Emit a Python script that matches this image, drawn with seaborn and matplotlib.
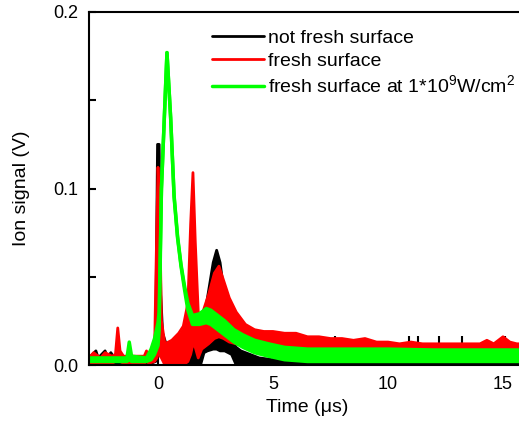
import seaborn as sns
import matplotlib.pyplot as plt

sns.set_theme(
    style="ticks",
    rc={
        "axes.linewidth": 1.5,
        "axes.edgecolor": "black",
        "axes.labelcolor": "black",
        "text.color": "black",
        "xtick.color": "black",
        "ytick.color": "black",
        "xtick.direction": "in",
        "ytick.direction": "in",
        "xtick.major.size": 5,
        "ytick.major.size": 5,
        "ytick.minor.size": 5,
        "xtick.major.width": 1.5,
        "ytick.major.width": 1.5,
        "ytick.minor.width": 1.5,
        "mathtext.default": "regular",
    },
)
plt.rcParams["font.family"] = ["Liberation Sans", "DejaVu Sans"]

# not fresh surface (black): time (us), lower / upper edge of the noisy trace (V)
t_black = [-3.0, -2.7, -2.6, -2.3, -2.2, -2.05, -1.9, -1.0, -0.3, -0.1, -0.02, 0.05, 0.12,
           0.2, 0.35, 0.6, 1.0, 1.3, 1.6, 1.85, 2.0, 2.15, 2.4, 2.55, 2.7, 2.9, 3.2, 3.4,
           3.6, 4.0, 4.4, 5.0, 16.0]
lo_black = [0.001, 0.001, 0.001, 0.001, 0.001, 0.001, 0.001, 0.001, 0.001, 0.002, 0.004, 0.006, 0.006,
            0.005, 0.003, 0.001, 0.0, 0.0, 0.0, 0.0, 0.007, 0.008, 0.009, 0.009, 0.008, 0.008, 0.006, 0.0,
            0.0, 0.0, 0.0, 0.0, 0.0]
hi_black = [0.004, 0.008, 0.004, 0.008, 0.004, 0.007, 0.004, 0.004, 0.005, 0.012, 0.125, 0.125, 0.04,
            0.018, 0.012, 0.006, 0.005, 0.008, 0.014, 0.02, 0.026, 0.038, 0.058, 0.065, 0.058, 0.038, 0.014, 0.01,
            0.008, 0.006, 0.004, 0.003, 0.003]
spike_t_black = [7.7, 10.9, 11.3, 12.2, 13.2, 15.1]
spike_v_black = [0.0165, 0.0165, 0.0165, 0.0165, 0.0165, 0.0165]

# fresh surface (red)
t_red = [-3.0, -2.8, -2.5, -2.3, -2.0, -1.85, -1.75, -1.65, -1.5, -0.6, -0.5, -0.4, -0.15,
         -0.05, 0.0, 0.07, 0.15, 0.3, 0.6, 0.9, 1.1, 1.3, 1.42, 1.52, 1.62, 1.75, 1.9, 2.2,
         2.45, 2.65, 2.85, 3.1, 3.4, 3.8, 4.2, 4.6, 5.0, 5.5, 6.0, 6.5, 7.0, 7.5, 8.0, 8.5,
         9.0, 9.5, 10.0, 10.5, 11.0, 11.5, 12.0, 12.5, 13.0, 13.5, 14.0, 14.3, 14.6, 15.0,
         15.3, 15.6, 16.0]
lo_red = [0.001, 0.001, 0.001, 0.001, 0.001, 0.002, 0.003, 0.002, 0.001, 0.001, 0.002, 0.001, 0.002,
          0.004, 0.006, 0.006, 0.004, 0.0, 0.0, 0.0, 0.0, 0.002, 0.006, 0.012, 0.01, 0.004, 0.009, 0.012,
          0.015, 0.016, 0.015, 0.013, 0.012, 0.011, 0.011, 0.010, 0.010, 0.010, 0.010, 0.010, 0.010, 0.009, 0.009, 0.009,
          0.009, 0.009, 0.009, 0.009, 0.009, 0.009, 0.009, 0.009, 0.009, 0.009, 0.009, 0.009, 0.009, 0.009,
          0.009, 0.009, 0.009]
hi_red = [0.004, 0.007, 0.004, 0.007, 0.005, 0.006, 0.021, 0.008, 0.005, 0.005, 0.008, 0.004, 0.008,
          0.08, 0.112, 0.09, 0.025, 0.012, 0.014, 0.018, 0.022, 0.035, 0.08, 0.109, 0.07, 0.03, 0.028, 0.04,
          0.052, 0.056, 0.048, 0.038, 0.03, 0.023, 0.02, 0.019, 0.019, 0.018, 0.018, 0.016, 0.016, 0.015, 0.015, 0.014,
          0.015, 0.013, 0.013, 0.012, 0.013, 0.012, 0.012, 0.012, 0.012, 0.012, 0.012, 0.014, 0.012, 0.016,
          0.013, 0.012, 0.012]

# fresh surface at 1e9 W/cm2 (green)
t_green = [-3.0, -2.0, -1.35, -1.25, -1.15, -0.5, -0.3, -0.15, 0.0, 0.05, 0.15, 0.39, 0.55,
           0.7, 0.85, 1.0, 1.15, 1.3, 1.5, 1.8, 2.1, 2.3, 2.6, 2.9, 3.3, 3.7, 4.2, 4.8,
           5.5, 6.5, 8.0, 10.0, 12.0, 14.0, 16.0]
lo_green = [0.002, 0.002, 0.002, 0.003, 0.002, 0.002, 0.003, 0.006, 0.011, 0.02, 0.10, 0.177, 0.14,
            0.095, 0.072, 0.056, 0.043, 0.031, 0.023, 0.023, 0.024, 0.023, 0.02, 0.017, 0.013, 0.01, 0.007, 0.005,
            0.003, 0.002, 0.002, 0.002, 0.002, 0.002, 0.002]
hi_green = [0.004, 0.004, 0.004, 0.013, 0.005, 0.004, 0.009, 0.015, 0.024, 0.03, 0.10, 0.177, 0.14,
            0.096, 0.073, 0.057, 0.045, 0.035, 0.028, 0.029, 0.032, 0.031, 0.028, 0.025, 0.02, 0.017, 0.014, 0.012,
            0.010, 0.009, 0.009, 0.009, 0.0085, 0.0085, 0.0085]

labels = ["not fresh surface", "fresh surface", "fresh surface at 1*10$^9$W/cm$^2$"]
colors = ["#000000", "#ff0000", "#00ff00"]

fig = plt.figure(figsize=(5.19, 4.25), dpi=100)
ax = fig.add_axes([89 / 519, 60 / 425, 437 / 519, 353 / 425])

series = [(t_black, lo_black, hi_black), (t_red, lo_red, hi_red), (t_green, lo_green, hi_green)]
for z, ((t, lo, hi), lab, c) in enumerate(zip(series, labels, colors)):
    lw = 2.5 if z == 2 else 2.0
    ax.fill_between(t, lo, hi, color=c, lw=0, zorder=2 + z)
    sns.lineplot(x=t, y=hi, ax=ax, color=c, lw=lw, label=lab, estimator=None, sort=False, zorder=2 + z)
    sns.lineplot(x=t, y=lo, ax=ax, color=c, lw=lw, label="_nolegend_", estimator=None, sort=False, zorder=2 + z)
    if z == 0:
        ax.vlines(spike_t_black, 0.004, spike_v_black, color=c, lw=1.5, zorder=2)

ax.set_xlim(-3, 16)
ax.set_ylim(0, 0.2)
ax.set_xticks([0, 5, 10, 15])
ax.set_yticks([0, 0.1, 0.2])
ax.set_yticklabels(["0.0", "0.1", "0.2"])
ax.set_yticks([0.05, 0.15], minor=True)
ax.tick_params(labelsize=13, pad=8)
ax.tick_params(axis="y", which="minor", length=5)
ax.set_xlabel("Time (\u03bcs)", fontsize=14)
ax.set_ylabel("Ion signal (V)", fontsize=14)
ax.xaxis.set_label_coords(0.5, -0.095)
ax.yaxis.set_label_coords(-0.135, 0.5)
for side in ["top", "right", "left", "bottom"]:
    ax.spines[side].set_visible(True)
    ax.spines[side].set_zorder(10)

ax.legend(loc="upper left", bbox_to_anchor=(0.281, 0.95), frameon=False, fontsize=14,
          handlelength=2.7, handletextpad=0.2, borderpad=0, borderaxespad=0, labelspacing=0.25)

fig.savefig("out.png", dpi=100)
